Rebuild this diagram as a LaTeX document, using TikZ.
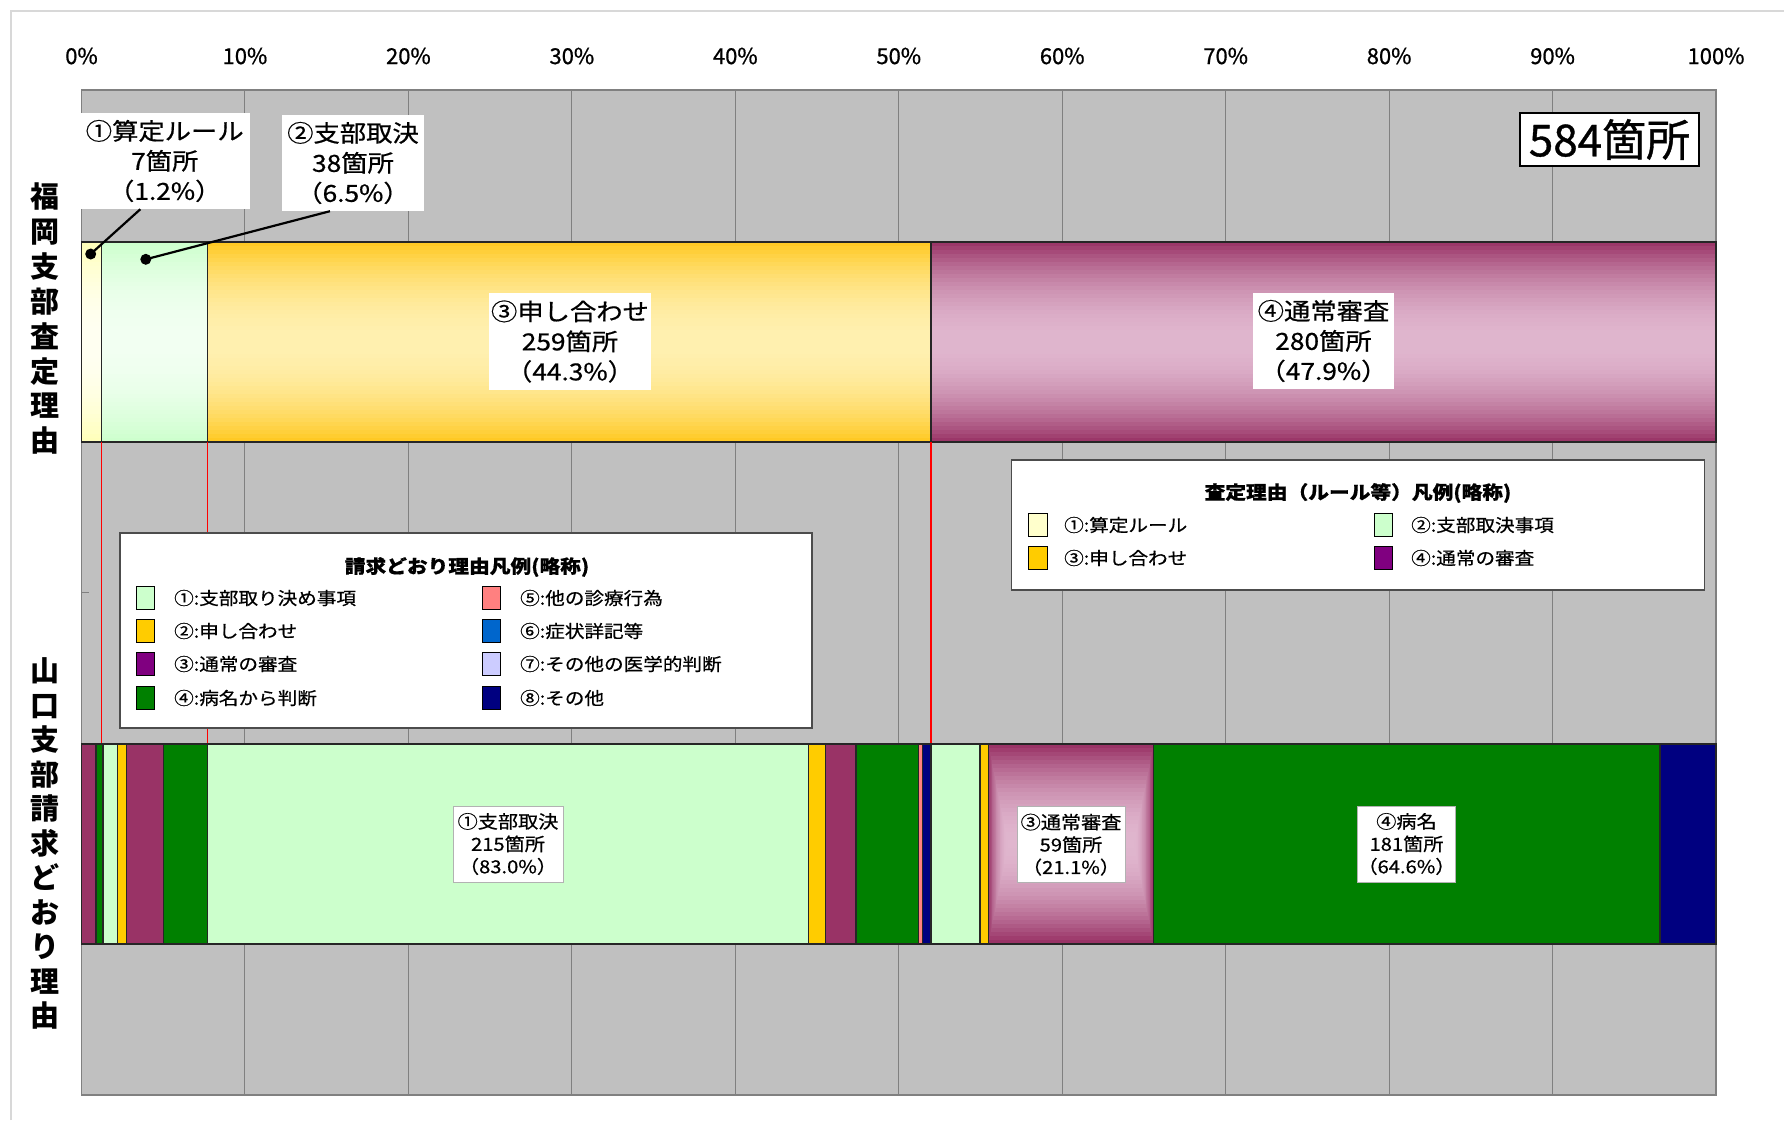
\documentclass[tikz,border=0pt]{standalone}
\usepackage{fontspec}
\setmainfont{Noto Sans CJK JP}
\newfontfamily\jp[FakeStretch=1.12, FakeBold=0.6]{Noto Sans CJK JP}
\newfontfamily\jpbig[FakeBold=0.8]{Noto Sans CJK JP}
\usetikzlibrary{calc}
\definecolor{plotgray}{HTML}{C0C0C0}
\definecolor{gridgray}{HTML}{808080}
\definecolor{framegray}{HTML}{D8D8D8}
\definecolor{segP}{HTML}{993366}
\definecolor{segPL}{HTML}{E0B6CE}
\definecolor{segG}{HTML}{008000}
\definecolor{segLG}{HTML}{CCFFCC}
\definecolor{segLGm}{HTML}{F2FFF2}
\definecolor{segY}{HTML}{FFCC00}
\definecolor{segYt}{HTML}{FFC820}
\definecolor{segYm}{HTML}{FFF0B0}
\definecolor{segLY}{HTML}{FFFFB8}
\definecolor{segLYm}{HTML}{FFFFF2}
\definecolor{segR}{HTML}{FF8080}
\definecolor{segB}{HTML}{0066CC}
\definecolor{segL}{HTML}{CCCCFF}
\definecolor{segN}{HTML}{000080}
\definecolor{segV}{HTML}{800080}
\definecolor{segLYsw}{HTML}{FFFFCC}
% vertical gradient built from thin strips: x0, x1, y0, y1, edge colour, middle colour
\newcommand{\mygrad}[6]{%
  \foreach \i in {0,...,49} {
    \pgfmathsetmacro{\ya}{#3+(#4-#3)*\i/50}
    \pgfmathsetmacro{\yb}{#3+(#4-#3)*(\i+1)/50+0.4}
    \pgfmathtruncatemacro{\pp}{100*(1-((\i+0.5)/25-1)^2)}
    \fill[#6!\pp!#5] (#1,\ya) rectangle (#2,\yb);
  }%
}
\begin{document}
\begin{tikzpicture}[x=1pt,y=-1pt,
  gridln/.style={draw=gridgray, line width=1pt},
  segline/.style={draw=black!85, line width=1.1pt},
  axlab/.style={inner sep=0pt, font=\jpbig\fontsize{22}{26}\selectfont},
  cbox/.style={fill=white, draw=none, inner sep=0pt, align=center, font=\jp\fontsize{23.5}{30}\selectfont},
  blab/.style={fill=white, draw=black!30, line width=0.8pt, inner sep=0pt, align=center, font=\jp\fontsize{18}{22.5}\selectfont},
  legbox/.style={fill=white, draw=black!70, line width=1.5pt},
  legtitle/.style={inner sep=0pt, font=\jp\bfseries\fontsize{18.5}{22}\selectfont},
  legtxt/.style={anchor=west, inner sep=0pt, font=\jp\fontsize{17.5}{20}\selectfont},
  swatch/.style={draw=black, line width=1pt, minimum width=18.5pt, minimum height=23pt, inner sep=0pt},
  dotnode/.style={circle, fill=black, inner sep=0pt, minimum size=11pt},
  callout/.style={draw=black, line width=2.2pt},
  ylab/.style={inner sep=0pt, align=center},
  redln/.style={draw=red, line width=1.5pt}
]
\useasboundingbox (0,0) rectangle (1784,1120);
\fill[white] (0,0) rectangle (1784,1120);
% outer frame
\draw[framegray, line width=1.5pt] (11,1120) -- (11,11) -- (1784,11);

% plot area
\filldraw[fill=plotgray, draw=gridgray, line width=1.5pt] (81.5,90) rectangle (1716,1095);
\foreach \k in {1,...,9} {
  \draw[gridln] ({81.5+163.45*\k},90) -- ({81.5+163.45*\k},1095);
}
\draw[gridgray, line width=1pt] (81.5,592.5) -- (89,592.5);

% axis labels
\foreach \k/\t in {0/0,1/10,2/20,3/30,4/40,5/50,6/60,7/70,8/80,9/90,10/100} {
  \node[axlab] (ax\k) at ({81.5+163.45*\k},56) {\t\%};
}

% top bar
\mygrad{81.5}{101.4}{242}{442}{segLY}{segLYm}
\mygrad{101.4}{207.3}{242}{442}{segLG}{segLGm}
\mygrad{207.3}{931}{242}{442}{segYt}{segYm}
\mygrad{931}{1716}{242}{442}{segP}{segPL}
\draw[segline] (81.5,242) rectangle (101.4,442);
\draw[segline] (101.4,242) rectangle (207.3,442);
\draw[segline] (207.3,242) rectangle (931,442);
\draw[segline] (931,242) rectangle (1716,442);

% red guide lines
\draw[redln] (101.4,442) -- (101.4,744);
\draw[redln] (207.3,442) -- (207.3,744);
\draw[redln] (931,442) -- (931,744);

% bottom bar
\foreach \a/\b/\c in {81.5/96/segP, 96/103/segG, 103/117.3/segLG, 117.3/126.7/segY, 126.7/163.3/segP, 163.3/207.3/segG, 207.3/808.3/segLG, 808.3/825.7/segY, 825.7/856/segP, 856/918.3/segG, 918.3/922.7/segR, 922.7/931/segN, 931/980/segLG, 980/988.3/segY, 1153.5/1660/segG, 1660/1716/segN} {
  \filldraw[fill=\c, segline] (\a,744) rectangle (\b,944);
}
\foreach \i in {0,...,24} {
  \pgfmathtruncatemacro{\pp}{100*(1-(1-\i/24)^2)}
  \fill[segPL!\pp!segP] ({988.3+0.8*\i},{744+4*\i}) rectangle ({1153.5-0.8*\i},{944-4*\i});
}
\draw[segline] (988.3,744) rectangle (1153.5,944);

% legend: assessment reasons (right)
\draw[legbox] (1011.5,460) rectangle (1704.6,590);
\node[legtitle] (rtitle) at (1358,493) {査定理由（ルール等）凡例(略称)};
\node[swatch, fill=segLYsw] (rs1) at (1037.8,525) {};
\node[legtxt] (rt1) at (1064,525) {①:算定ルール};
\node[swatch, fill=segY] (rs3) at (1037.8,558) {};
\node[legtxt] (rt3) at (1064,558) {③:申し合わせ};
\node[swatch, fill=segLG] (rs2) at (1383.5,525) {};
\node[legtxt] (rt2) at (1411,525) {②:支部取決事項};
\node[swatch, fill=segV] (rs4) at (1383.5,558) {};
\node[legtxt] (rt4) at (1411,558) {④:通常の審査};

% legend: as-claimed reasons (left)
\draw[legbox] (120,533) rectangle (812,728);
\node[legtitle] (ltitle) at (467,567) {請求どおり理由凡例(略称)};
\node[swatch, fill=segLG] (ls1) at (145.5,598) {};
\node[legtxt] (lt1) at (174,598) {①:支部取り決め事項};
\node[swatch, fill=segY] (ls2) at (145.5,631) {};
\node[legtxt] (lt2) at (174,631) {②:申し合わせ};
\node[swatch, fill=segV] (ls3) at (145.5,664) {};
\node[legtxt] (lt3) at (174,664) {③:通常の審査};
\node[swatch, fill=segG] (ls4) at (145.5,698) {};
\node[legtxt] (lt4) at (174,698) {④:病名から判断};
\node[swatch, fill=segR] (ls5) at (491.5,598) {};
\node[legtxt] (lt5) at (520,598) {⑤:他の診療行為};
\node[swatch, fill=segB] (ls6) at (491.5,631) {};
\node[legtxt] (lt6) at (520,631) {⑥:症状詳記等};
\node[swatch, fill=segL] (ls7) at (491.5,664) {};
\node[legtxt] (lt7) at (520,664) {⑦:その他の医学的判断};
\node[swatch, fill=segN] (ls8) at (491.5,698) {};
\node[legtxt] (lt8) at (520,698) {⑧:その他};

% top bar labels
\node[cbox, minimum width=162pt, minimum height=97pt] (t3) at (570,341.5) {③申し合わせ\\259箇所\\（44.3\%）};
\node[cbox, minimum width=141pt, minimum height=96pt] (t4) at (1323.5,341) {④通常審査\\280箇所\\（47.9\%）};

% callouts
\node[cbox, minimum width=170pt, minimum height=96pt] (c1) at (164.75,161) {①算定ルール\\7箇所\\（1.2\%）};
\node[cbox, minimum width=142pt, minimum height=96pt] (c2) at (353,163) {②支部取決\\38箇所\\（6.5\%）};
\node[dotnode] (d1) at (90.7,254) {};
\node[dotnode] (d2) at (145.8,259.3) {};
\draw[callout] (d1.center) -- ($(c1.south west)!0.357!(c1.south east)$);
\draw[callout] (d2.center) -- ($(c2.south west)!0.338!(c2.south east)$);

% total
\node[fill=white, draw=black, line width=1.5pt, minimum width=179pt, minimum height=53pt, inner sep=0pt, font=\jpbig\fontsize{44}{48}\selectfont] (total) at (1609.5,139.5) {584箇所};

% bottom bar labels
\node[blab, minimum width=110pt, minimum height=76pt] (b1) at (508,844) {①支部取決\\215箇所\\（83.0\%）};
\node[blab, minimum width=108pt, minimum height=76pt] (b3) at (1071,844.7) {③通常審査\\59箇所\\（21.1\%）};
\node[blab, minimum width=78pt, minimum height=76pt] (b4) at (1406.5,844) {④病名\\181箇所\\（64.6\%）};

% category labels
\node[ylab, font=\bfseries\fontsize{29}{34.9}\selectfont] (y1) at (45,318.7) {福\\岡\\支\\部\\査\\定\\理\\由};
\node[ylab, font=\bfseries\fontsize{29}{34.5}\selectfont] (y2) at (45,843.5) {山\\口\\支\\部\\請\\求\\ど\\お\\り\\理\\由};
\end{tikzpicture}
\end{document}
